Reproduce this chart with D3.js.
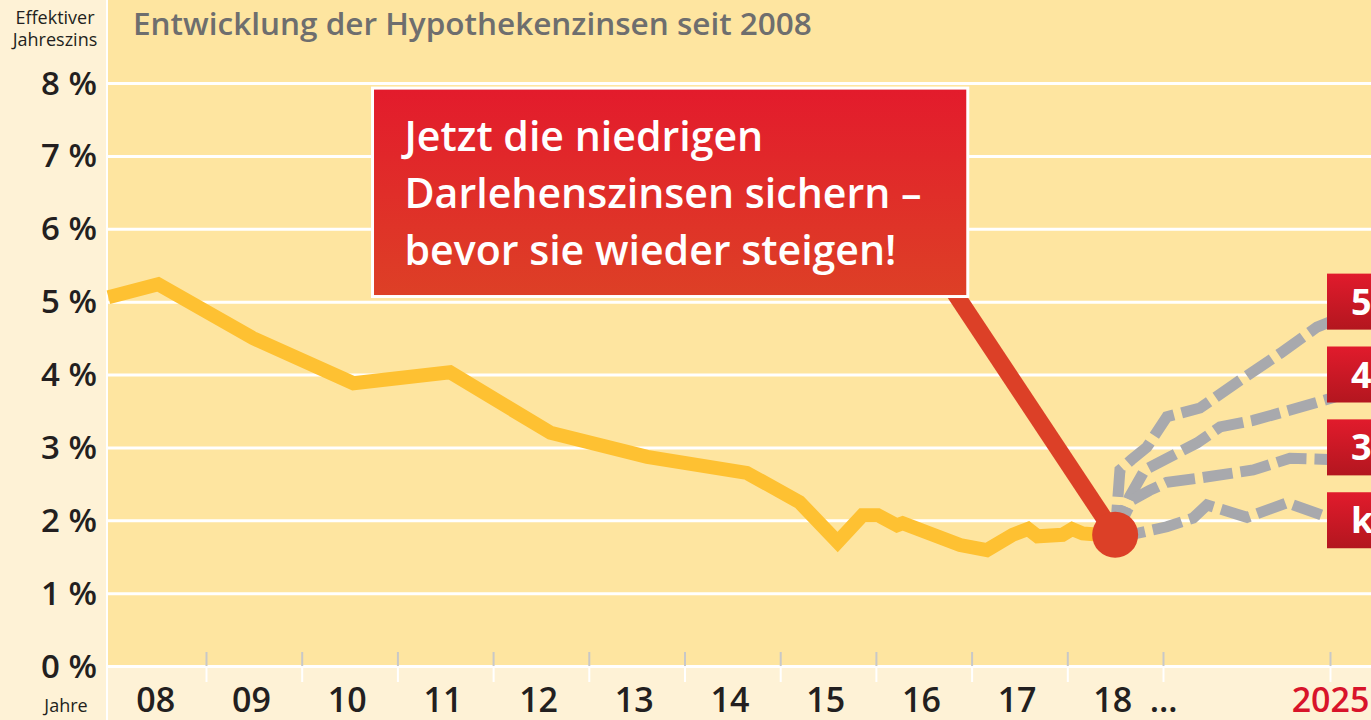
<!DOCTYPE html>
<html>
<head>
<meta charset="utf-8">
<script src="https://cdn.jsdelivr.net/npm/d3@7"></script>
<style>
  body { margin: 0; background: #fef2d6; }
  svg { display: block; font-family: "Open Sans", sans-serif; }
</style>
</head>
<body>
<div id="chart"></div>
<script>
// historical mortgage rates (effective annual rate, %)
const histYears = [2007.98, 2008.5, 2009.49, 2010.54, 2011.55, 2012.6, 2013.61, 2014.65, 2015.2, 2015.6,
    2015.86, 2016.02, 2016.22, 2016.28, 2016.88, 2017.16, 2017.43, 2017.59, 2017.69, 2017.95,
    2018.05, 2018.16, 2018.34, 2018.5];
const histRates = [5.06, 5.24, 4.50, 3.88, 4.03, 3.20, 2.87, 2.65, 2.25, 1.70,
    2.07, 2.07, 1.93, 1.96, 1.66, 1.59, 1.80, 1.88, 1.78, 1.80,
    1.88, 1.82, 1.80, 1.80];

// forecast scenarios up to 2025
const scen5Years = [2018.5, 2018.55, 2018.67, 2018.83, 2019.14, 2020.33, 2021.77, 2023.21, 2024.53, 2025.18];
const scen5Rates = [1.8, 2.69, 2.83, 3.0, 3.42, 3.54, 3.92, 4.29, 4.65, 4.75];
const scen4Years = [2018.5, 2018.65, 2018.81, 2019.25, 2020.22, 2021.05, 2022.24, 2023.92, 2025.18];
const scen4Rates = [1.8, 2.32, 2.69, 2.87, 3.06, 3.28, 3.37, 3.55, 3.69];
const scen3Years = [2018.5, 2018.68, 2018.86, 2019.14, 2020.33, 2022.24, 2023.56, 2025.18];
const scen3Rates = [1.8, 2.28, 2.41, 2.52, 2.58, 2.69, 2.85, 2.83];
const scenKYears = [2018.5, 2018.73, 2019.14, 2020.08, 2020.58, 2022.02, 2023.46, 2025.0, 2025.36];
const scenKRates = [1.82, 1.82, 1.91, 2.03, 2.21, 2.04, 2.24, 2.03, 2.0];

const yTicks = [0, 1, 2, 3, 4, 5, 6, 7, 8];
const yearLabels = ["08", "09", "10", "11", "12", "13", "14", "15", "16", "17", "18"];
const yearBounds = [2009, 2010, 2011, 2012, 2013, 2014, 2015, 2016, 2017, 2018, 2019, 2025];
const scenarioLabels = ["5 %", "4 %", "3 %", "keine"];
const scenarioLevels = [5, 4, 3, 2];

const W = 1371, H = 720;
const left = 108, zeroY = 666, topY = 83;

const svg = d3.select("#chart").append("svg")
    .attr("width", W)
    .attr("height", H);

// shrink/grow a text's font-size until it spans the wanted width
function fitWidth(sel, target) {
    sel.each(function() {
        let t = d3.select(this);
        let fs = parseFloat(t.attr("font-size"));
        let w = this.getComputedTextLength();
        if (w > 0) t.attr("font-size", (fs * target / w).toFixed(2));
    });
}

const defs = svg.append("defs");
let g1 = defs.append("linearGradient").attr("id", "boxGrad").attr("x1", 0).attr("y1", 0).attr("x2", 0).attr("y2", 1);
g1.append("stop").attr("offset", "0%").attr("stop-color", "#e31b2c");
g1.append("stop").attr("offset", "100%").attr("stop-color", "#dd4026");
let g2 = defs.append("linearGradient").attr("id", "tagGrad").attr("x1", 0).attr("y1", 0).attr("x2", 0).attr("y2", 1);
g2.append("stop").attr("offset", "0%").attr("stop-color", "#e11b2c");
g2.append("stop").attr("offset", "100%").attr("stop-color", "#b3161f");

// scales
const x = d3.scaleLinear()
    .domain([2008, 2019, 2025])
    .range([110.3, 1163, 1330]);
const y = d3.scaleLinear()
    .domain([0, 8])
    .range([zeroY, topY]);

// backgrounds
svg.append("rect").attr("x", 0).attr("y", 0).attr("width", W).attr("height", H).attr("fill", "#fef2d6");
svg.append("rect").attr("x", left).attr("y", 0).attr("width", W - left).attr("height", zeroY).attr("fill", "#fee5a0");
svg.append("line").attr("x1", left - 1).attr("x2", left - 1).attr("y1", 0).attr("y2", H)
    .attr("stroke", "#fff").attr("stroke-width", 2);

// gridlines
let grid = svg.append("g")
    .attr("transform", `translate(${left},0)`)
    .call(d3.axisLeft(y).tickValues(yTicks).tickSize(-(W - left)).tickFormat(""));
grid.select(".domain").remove();
grid.selectAll(".tick line").attr("stroke", "#fff").attr("stroke-width", 3);

// year ticks: grey above zero line, white below
let tUp = svg.append("g")
    .attr("transform", `translate(0,${zeroY})`)
    .call(d3.axisBottom(x).tickValues(yearBounds).tickSize(-14).tickFormat(""));
tUp.select(".domain").remove();
tUp.selectAll(".tick line").attr("stroke", "#c8c8c8").attr("stroke-width", 2);
let tDown = svg.append("g")
    .attr("transform", `translate(0,${zeroY + 1})`)
    .call(d3.axisBottom(x).tickValues(yearBounds).tickSize(15).tickFormat(""));
tDown.select(".domain").remove();
tDown.selectAll(".tick line").attr("stroke", "#fff").attr("stroke-width", 2);

// y axis labels
let yAxis = svg.append("g")
    .attr("transform", "translate(97,0)")
    .call(d3.axisLeft(y).tickValues(yTicks).tickSize(0).tickPadding(0).tickFormat(d => d + " %"));
yAxis.select(".domain").remove();
yAxis.selectAll("text")
    .attr("font-family", "Open Sans")
    .attr("font-size", 33)
    .attr("font-weight", 600)
    .attr("fill", "#231f20")
    .attr("dy", 11);

// x axis labels
const xTickVals = yearLabels.map((d, i) => 2008.47 + i).concat([2019, 2025]);
const xTickText = yearLabels.concat(["…", "2025"]);
let xAxis = svg.append("g")
    .attr("transform", `translate(0,${zeroY})`)
    .call(d3.axisBottom(x).tickValues(xTickVals).tickSize(0).tickPadding(0)
        .tickFormat((d, i) => xTickText[i]));
xAxis.select(".domain").remove();
xAxis.selectAll("text")
    .attr("font-family", "Open Sans")
    .attr("font-size", 34)
    .attr("font-weight", 600)
    .attr("fill", (d, i) => i === xTickText.length - 1 ? "#d8142a" : "#231f20")
    .attr("y", 0)
    .attr("dy", 46);

// axis captions
svg.append("text").attr("x", 55).attr("y", 24).attr("text-anchor", "middle")
    .attr("font-size", 18).attr("fill", "#231f20").text("Effektiver");
svg.append("text").attr("x", 55).attr("y", 46).attr("text-anchor", "middle")
    .attr("font-size", 18).attr("fill", "#231f20").text("Jahreszins");
svg.append("text").attr("x", 66).attr("y", 712).attr("text-anchor", "middle")
    .attr("font-size", 18).attr("fill", "#231f20").text("Jahre");

// title
svg.append("text").attr("x", 133).attr("y", 35)
    .attr("font-size", 29).attr("font-weight", 600).attr("fill", "#6e6e6e")
    .text("Entwicklung der Hypothekenzinsen seit 2008")
    .call(fitWidth, 679);

// lines
const line = d3.line().x(d => x(d[0])).y(d => y(d[1]));

const scenarios = [
    d3.zip(scen5Years, scen5Rates),
    d3.zip(scen4Years, scen4Rates),
    d3.zip(scen3Years, scen3Rates),
    d3.zip(scenKYears, scenKRates)
];
svg.append("g").selectAll("path")
    .data(scenarios)
    .enter().append("path")
    .attr("d", line)
    .attr("fill", "none")
    .attr("stroke", "#a8a9ad")
    .attr("stroke-width", 11)
    .attr("stroke-dasharray", "30,8")
    .attr("stroke-linejoin", "miter");

svg.append("path")
    .datum(d3.zip(histYears, histRates))
    .attr("d", line)
    .attr("fill", "none")
    .attr("stroke", "#fec132")
    .attr("stroke-width", 14)
    .attr("stroke-linejoin", "miter");

// callout connector + dot
const last = [histYears[histYears.length - 1], histRates[histRates.length - 1]];
const anchor = [2016.61, 5.54];
svg.append("line")
    .attr("x1", x(anchor[0])).attr("y1", y(anchor[1]))
    .attr("x2", x(last[0])).attr("y2", y(last[1]))
    .attr("stroke", "#dc4027")
    .attr("stroke-width", 17);
svg.append("circle")
    .attr("cx", x(last[0])).attr("cy", y(last[1]))
    .attr("r", 23)
    .attr("fill", "#dc4027");

// callout box
const bx0 = x(2010.74), bx1 = x(2016.96), by0 = y(7.93), by1 = y(5.07);
svg.append("rect")
    .attr("x", bx0).attr("y", by0)
    .attr("width", bx1 - bx0).attr("height", by1 - by0)
    .attr("fill", "url(#boxGrad)")
    .attr("stroke", "#fff")
    .attr("stroke-width", 3);
const calloutLines = ["Jetzt die niedrigen", "Darlehenszinsen sichern –", "bevor sie wieder steigen!"];
let callout = svg.append("g").selectAll("text")
    .data(calloutLines)
    .enter().append("text")
    .attr("x", bx0 + 32)
    .attr("y", (d, i) => by0 + 63 + i * 57)
    .attr("font-size", 38)
    .attr("font-weight", 600)
    .attr("fill", "#fff")
    .text(d => d);
// size all three lines so the middle one spans the reference width
let mid = callout.filter((d, i) => i === 1).node();
let fs = 38 * 517 / mid.getComputedTextLength();
callout.attr("font-size", fs.toFixed(2));

// scenario tags at right edge
let tags = svg.append("g").selectAll("g")
    .data(scenarioLabels)
    .enter().append("g")
    .attr("transform", (d, i) => `translate(${x(2025) - 3},${y(scenarioLevels[i]) - 28})`);
tags.append("rect")
    .attr("width", 60).attr("height", 56)
    .attr("fill", "url(#tagGrad)");
tags.append("text")
    .attr("x", 24).attr("y", 41)
    .attr("font-size", 36)
    .attr("font-weight", 700)
    .attr("fill", "#fff")
    .text(d => d);
</script>
</body>
</html>
